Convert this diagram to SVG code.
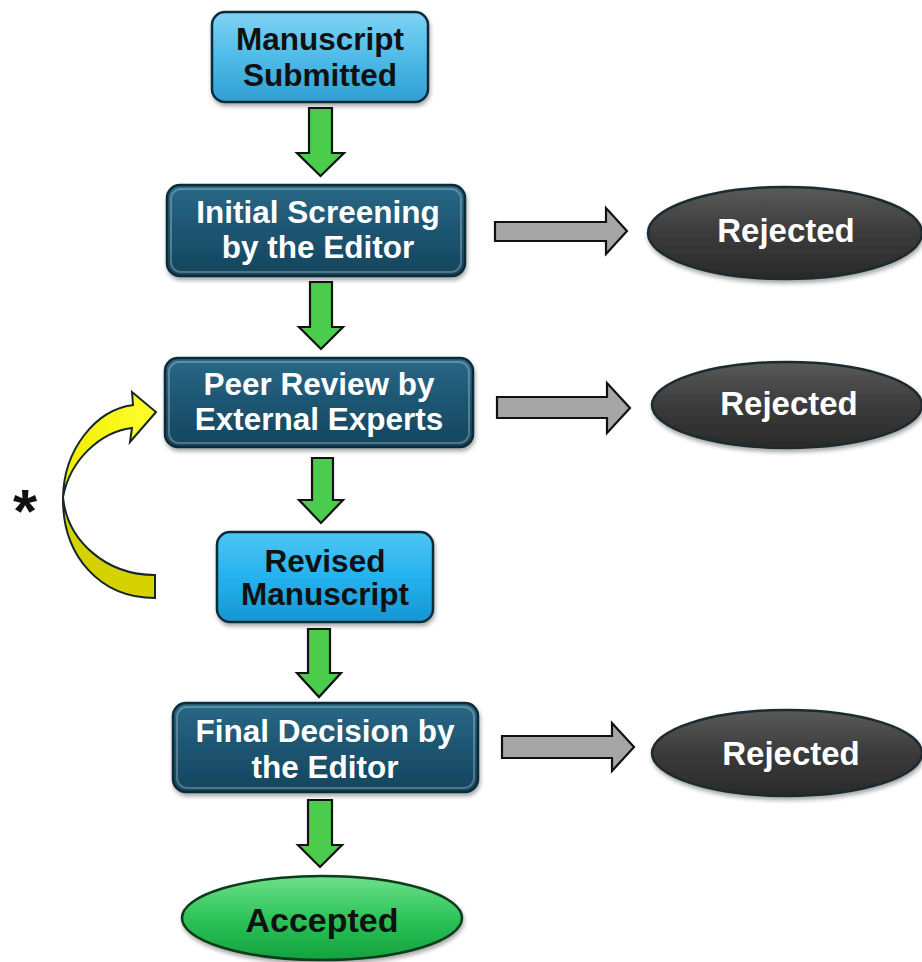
<svg xmlns="http://www.w3.org/2000/svg" width="922" height="962" viewBox="0 0 922 962">
<defs>
<linearGradient id="gLight" x1="0" y1="0" x2="0" y2="1">
<stop offset="0" stop-color="#7fd3f3"/><stop offset="0.5" stop-color="#4fbbe8"/><stop offset="1" stop-color="#2f9fd2"/>
</linearGradient>
<linearGradient id="gCyan" x1="0" y1="0" x2="0" y2="1">
<stop offset="0" stop-color="#4cc6f5"/><stop offset="0.5" stop-color="#25b2ee"/><stop offset="1" stop-color="#1596d2"/>
</linearGradient>
<linearGradient id="gDark" x1="0" y1="0" x2="0" y2="1">
<stop offset="0" stop-color="#2a6987"/><stop offset="0.5" stop-color="#1d5571"/><stop offset="1" stop-color="#15455d"/>
</linearGradient>
<linearGradient id="gRej" x1="0" y1="0" x2="0" y2="1">
<stop offset="0" stop-color="#5a5a5a"/><stop offset="0.5" stop-color="#3b3b3b"/><stop offset="1" stop-color="#2a2a2a"/>
</linearGradient>
<linearGradient id="gAcc" x1="0" y1="0" x2="0" y2="1">
<stop offset="0" stop-color="#6de08a"/><stop offset="0.5" stop-color="#2ec45a"/><stop offset="1" stop-color="#13a13e"/>
</linearGradient>
<linearGradient id="gYel" x1="0" y1="0" x2="1" y2="0">
<stop offset="0" stop-color="#f0ee00"/><stop offset="1" stop-color="#ffff30"/>
</linearGradient>
<filter id="sh" x="-10%" y="-10%" width="120%" height="130%">
<feDropShadow dx="1" dy="3" stdDeviation="2" flood-color="#000" flood-opacity="0.35"/>
</filter>
</defs>
<style>
.box{stroke:#0f2c3a;stroke-width:2.5;filter:url(#sh)}
.dark{fill:url(#gDark)}
.light{fill:url(#gLight)}
.cyan{fill:url(#gCyan)}
.rej{fill:url(#gRej);stroke:#1c2a30;stroke-width:2.5;filter:url(#sh)}
.acc{fill:url(#gAcc);stroke:#0d3a1a;stroke-width:2.5;filter:url(#sh)}
.t{font-family:"Liberation Sans",Arial,sans-serif;font-weight:bold;text-anchor:middle}
.tw{fill:#ffffff;font-size:31.5px}
.tk{fill:#111111;font-size:31.5px}
.rt{fill:#ffffff;font-size:33px}
.ga{fill:#4ccc4c;stroke:#111;stroke-width:2.2;stroke-linejoin:miter}
.gr{fill:#a6a6a6;stroke:#111;stroke-width:2.2;stroke-linejoin:miter}
.hl{fill:none;stroke:#ffffff;stroke-opacity:0.25;stroke-width:2}
</style>

<g id="connectors">
<path class="ga" d="M309,108 H332 V153 H344 L320.5,176 L297,153 H309 Z"/>
<path class="ga" d="M310,282 H332 V327 H343 L321,349 L299,327 H310 Z"/>
<path class="ga" d="M312,458 H333 V500 H343 L321,523 L299,500 H312 Z"/>
<path class="ga" d="M308,629 H330 V673 H341 L319,697 L297,673 H308 Z"/>
<path class="ga" d="M308,800 H332 V845 H342 L320,867 L298,845 H308 Z"/>
<path class="gr" d="M495,222 H606 V208 L627,231 L606,254 V241 H495 Z"/>
<path class="gr" d="M497,397 H607 V383 L630,408 L607,433 V418 H497 Z"/>
<path class="gr" d="M502,736 H612 V723 L634,747 L612,771 V758 H502 Z"/>
<path d="M155,575 L155,598 C100,598 62,556 63,497 C67,540 105,575 155,575 Z" fill="#d6d200" stroke="#15262d" stroke-width="2"/>
<path d="M63,497 C64,450 95,410 133,405 L132,392 L156,412 L130,442 L132,428 C100,432 70,460 63,497 Z" fill="url(#gYel)" stroke="#15262d" stroke-width="2"/>
</g>

<g id="n-submitted">
<rect class="box light" x="212" y="12" width="216" height="90" rx="13"/>
<text class="t tk" x="320" y="50">Manuscript</text>
<text class="t tk" x="320" y="86">Submitted</text>
</g>

<g id="n-screening">
<rect class="box dark" x="167" y="185" width="298" height="91" rx="13"/>
<rect class="hl" x="171" y="189" width="290" height="83" rx="10"/>
<text class="t tw" x="318" y="223">Initial Screening</text>
<text class="t tw" x="318" y="258">by the Editor</text>
</g>

<g id="n-peer">
<rect class="box dark" x="165" y="358" width="308" height="89" rx="13"/>
<rect class="hl" x="169" y="362" width="300" height="81" rx="10"/>
<text class="t tw" x="319" y="395">Peer Review by</text>
<text class="t tw" x="319" y="430">External Experts</text>
</g>

<g id="n-revised">
<rect class="box cyan" x="217" y="532" width="216" height="90" rx="13"/>
<text class="t tk" x="325" y="572">Revised</text>
<text class="t tk" x="325" y="605">Manuscript</text>
</g>

<g id="n-final">
<rect class="box dark" x="173" y="703" width="305" height="89" rx="13"/>
<rect class="hl" x="177" y="707" width="297" height="81" rx="10"/>
<text class="t tw" x="325" y="742">Final Decision by</text>
<text class="t tw" x="325" y="778">the Editor</text>
</g>

<g id="n-rej1">
<ellipse class="rej" cx="785" cy="233" rx="137" ry="46"/>
<text class="t rt" x="786" y="242">Rejected</text>
</g>

<g id="n-rej2">
<ellipse class="rej" cx="787" cy="405" rx="135" ry="43"/>
<text class="t rt" x="789" y="415">Rejected</text>
</g>

<g id="n-rej3">
<ellipse class="rej" cx="787" cy="753" rx="135" ry="43"/>
<text class="t rt" x="791" y="765">Rejected</text>
</g>

<g id="n-accepted">
<ellipse class="acc" cx="322" cy="918" rx="140" ry="42"/>
<text class="t" x="322" y="932" fill="#111111" font-size="34">Accepted</text>
</g>

<g id="note">
<text class="t" x="25" y="532" fill="#111111" font-size="62">*</text>
</g>
</svg>
